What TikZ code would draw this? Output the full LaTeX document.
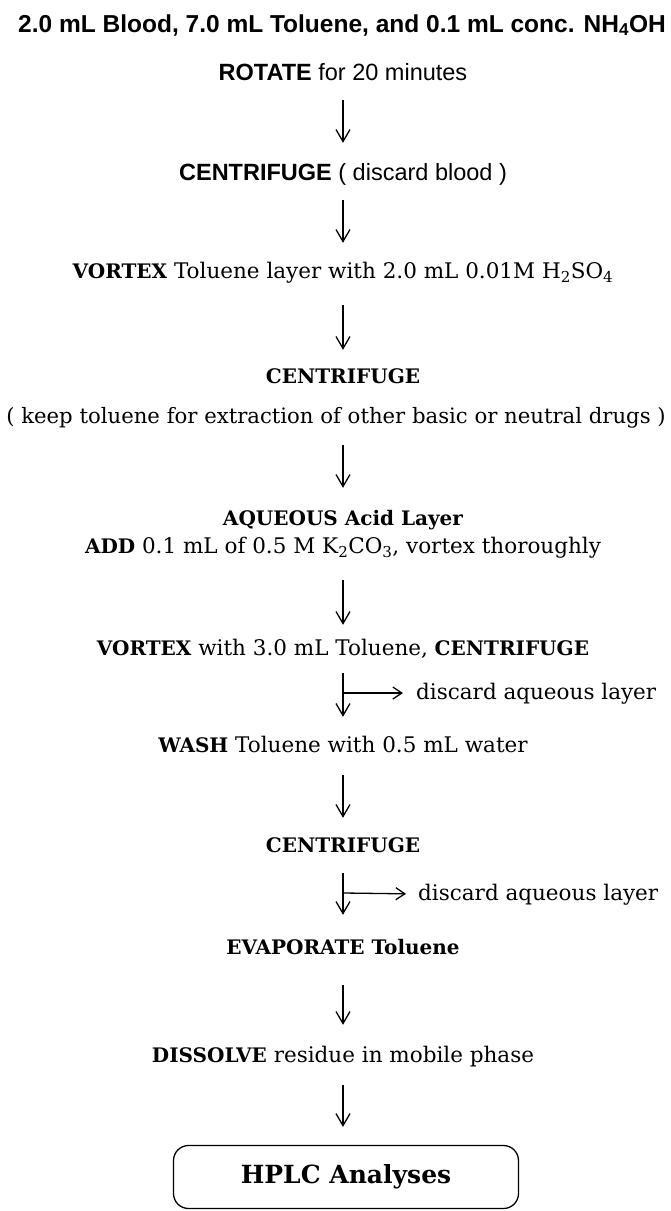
\documentclass[tikz,border=0pt]{standalone}
\usepackage{fontspec}
\setmainfont{DejaVu Serif}
\newfontfamily\sansf{Liberation Sans}
\usetikzlibrary{arrows.meta,backgrounds}
\newcommand\stepb[1]{{\bfseries\fontsize{20}{24}\selectfont #1}}
\begin{document}
\begin{tikzpicture}[x=1pt,y=1pt,
  sansstep/.style={font=\sansf\fontsize{23.5}{28}\selectfont, anchor=base, inner sep=0pt, text height=17pt, text depth=5pt},
  serstep/.style={font=\fontsize{21.5}{25}\selectfont, anchor=base, inner sep=0pt, text height=17pt, text depth=5pt},
  sidelabel/.style={font=\fontsize{21.5}{25}\selectfont, anchor=base west, inner sep=0pt, text height=17pt, text depth=5pt},
  arr/.style={-{Straight Barb[length=12pt,width=14pt]}, line width=1.3pt},
  sidearr/.style={-{Straight Barb[length=9pt,width=12pt]}, line width=1.3pt},
  finalbox/.style={draw, rounded corners=15pt, minimum width=345pt, minimum height=63pt, line width=1.3pt, fill=white, inner sep=0pt, font=\bfseries\fontsize{25}{30}\selectfont}
]
\useasboundingbox (0,0) rectangle (671,-1211);
\fill[white] (0,0) rectangle (671,-1211);

\node[font=\sansf\bfseries\fontsize{24.5}{29}\selectfont, anchor=base, inner sep=0pt] (title) at (342,-32) {2.0 mL Blood, 7.0 mL Toluene, and 0.1 mL conc. NH\textsubscript{4}OH};

\node[sansstep] (rot) at (343,-80) {\textbf{ROTATE} for 20 minutes};
\node[sansstep] (cen1) at (343,-180) {\textbf{CENTRIFUGE} ( discard blood )};
\node[serstep] (vor1) at (343,-278) {\stepb{VORTEX} Toluene layer with 2.0 mL 0.01M H\textsubscript{2}SO\textsubscript{4}};
\node[serstep] (cen2) at (343,-383) {\stepb{CENTRIFUGE}};
\node[serstep, font=\fontsize{21.2}{25}\selectfont] (keep) at (336,-423) {( keep toluene for extraction of other basic or neutral drugs )};
\node[serstep] (aq) at (343,-525) {\stepb{AQUEOUS Acid Layer}};
\node[serstep] (add) at (343,-553) {\stepb{ADD} 0.1 mL of 0.5 M K\textsubscript{2}CO\textsubscript{3}, vortex thoroughly};
\node[serstep] (vor2) at (343,-655) {\stepb{VORTEX} with 3.0 mL Toluene, \stepb{CENTRIFUGE}};
\node[serstep] (wash) at (343,-752) {\stepb{WASH} Toluene with 0.5 mL water};
\node[serstep] (cen3) at (343,-852) {\stepb{CENTRIFUGE}};
\node[serstep] (evap) at (343,-954) {\stepb{EVAPORATE Toluene}};
\node[serstep] (diss) at (343,-1062) {\stepb{DISSOLVE} residue in mobile phase};
\node[finalbox] (hplc) at (346,-1177) {HPLC Analyses};
\begin{scope}[on background layer]
  \draw[line width=1.3pt, rounded corners=15pt] ([shift={(1.8,-1.8)}]hplc.south west) rectangle ([shift={(1.8,-1.8)}]hplc.north east);
\end{scope}

\node[sidelabel] (dis1) at (416,-699) {discard aqueous layer};
\node[sidelabel] (dis2) at (418,-900) {discard aqueous layer};
\coordinate (br1) at (343,-693);
\coordinate (br2) at (344,-893);

\draw[arr, shorten <=15pt, shorten >=20pt] (rot.south) -- (cen1.north);
\draw[arr, shorten <=15pt, shorten >=18pt] (cen1.south) -- (vor1.north);
\draw[arr, shorten <=22pt, shorten >=16pt] (vor1.south) -- (cen2.north);
\draw[arr, shorten <=17pt, shorten >=20pt] (keep.south -| aq.south) -- (aq.north);
\draw[arr, shorten <=22pt, shorten >=13pt] (add.south) -- (vor2.north);
\draw[arr, shorten <=13pt, shorten >=18pt] (vor2.south) -- (wash.north);
\draw[arr, shorten <=18pt, shorten >=17pt] (wash.south) -- (cen3.north);
\draw[arr, shorten <=16pt, shorten >=22pt] (cen3.south) -- (evap.north);
\draw[arr, shorten <=26pt, shorten >=20pt] (evap.south) -- (diss.north);
\draw[arr, shorten <=18pt, shorten >=18pt] (diss.south) -- (diss.south |- hplc.north);

\draw[sidearr, shorten >=13pt] (br1) -- (dis1.west);
\draw[sidearr, shorten >=12pt] (br2) -- (dis2.west);
\end{tikzpicture}
\end{document}
